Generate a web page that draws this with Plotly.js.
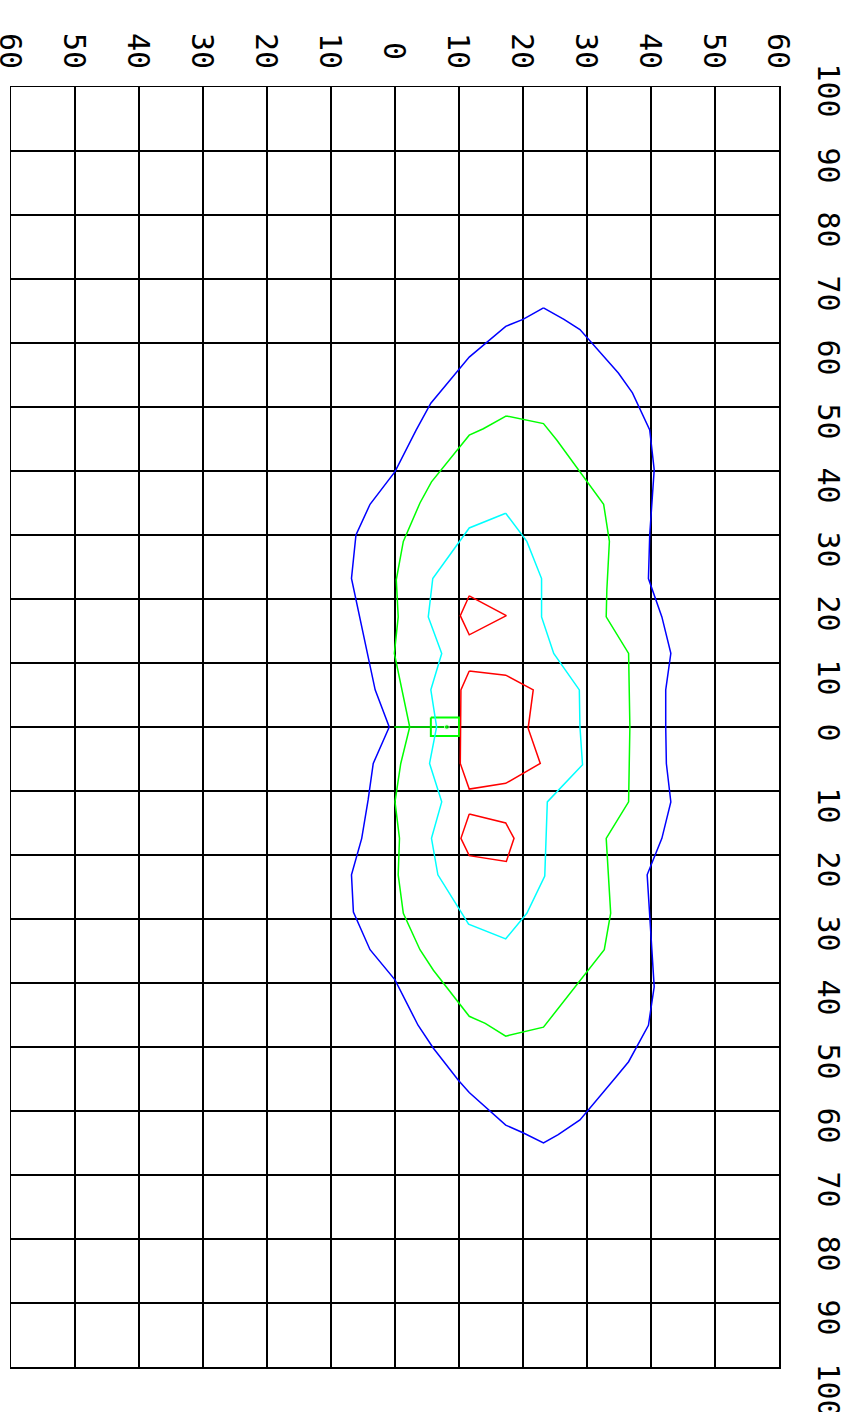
<!DOCTYPE html>
<html>
<head>
<meta charset="utf-8">
<script src="https://cdn.plot.ly/plotly-3.0.1.min.js"></script>
<style>
  html, body { margin: 0; padding: 0; background: #ffffff; }
  #chart { width: 865px; height: 1412px; }
</style>
</head>
<body>
<div id="chart"></div>
<script>
// ---- tick values / labels ----
const xTickVals = [-60, -50, -40, -30, -20, -10, 0, 10, 20, 30, 40, 50, 60];
const xTickText = ['60', '50', '40', '30', '20', '10', '0', '10', '20', '30', '40', '50', '60'];
const yTickVals = [100, 90, 80, 70, 60, 50, 40, 30, 20, 10, 0, -10, -20, -30, -40, -50, -60, -70, -80, -90, -100];
const yTickText = ['100', '90', '80', '70', '60', '50', '40', '30', '20', '10', '0', '10', '20', '30', '40', '50', '60', '70', '80', '90', '100'];

// ---- contour lines ----
const blueX = [23.2, 26.4, 28.9, 32.6, 34.9, 37.1, 39.8, 40.5, 39.8, 39.6, 41.7, 43.1, 42.3, 42.3, 42.4, 43.1, 41.7, 39.4, 40.5, 39.6, 36.5, 34.6, 32.6, 28.9, 25.5, 23.2, 20.0, 17.3, 11.6, 9.9, 6.0, 3.6, 0.0, -3.9, -6.5, -6.8, -5.2, -4.2, -3.4, -0.9, -3.1, -5.5, -6.8, -6.1, -3.9, 0.0, 3.3, 5.6, 11.6, 17.3, 20.0, 23.2];
const blueY = [65.5, 63.7, 62.1, 57.8, 55.3, 52.2, 46.4, 40.2, 30.0, 23.2, 17.2, 11.5, 5.8, 0.0, -5.7, -11.7, -17.4, -23.1, -40.6, -46.6, -52.3, -54.6, -57.0, -61.4, -63.7, -65.0, -63.4, -62.2, -57.1, -55.2, -50.2, -46.6, -39.5, -34.8, -28.9, -23.1, -17.4, -11.4, -5.7, 0.0, 5.8, 17.0, 23.2, 30.0, 34.8, 39.9, 46.4, 50.6, 57.8, 62.6, 63.7, 65.5];

const greenX = [17.4, 23.2, 25.3, 32.6, 33.5, 33.1, 33.0, 36.5, 36.7, 36.5, 33.0, 33.7, 32.7, 23.2, 17.3, 14.1, 11.6, 6.0, 3.9, 1.3, 0.5, 0.7, 0.0, 0.9, 2.3, -0.1, 0.5, 0.2, 1.3, 3.9, 5.7, 11.6, 13.8, 17.4];
const greenY = [48.6, 47.4, 44.8, 34.8, 29.0, 21.4, 17.2, 11.5, 0.0, -11.7, -17.4, -29.1, -34.8, -46.9, -48.3, -46.3, -45.2, -38.0, -34.8, -29.1, -23.1, -17.4, -11.7, -5.7, 0.0, 11.5, 17.2, 23.0, 29.0, 35.0, 38.3, 45.6, 46.6, 48.6];

// small green artefact near the origin (box + stub)
const greenBoxX = [5.6, 10.0, 10.0, 5.6, 5.6];
const greenBoxY = [1.5, 1.5, -1.4, -1.4, 1.5];
const greenStubX = [-0.1, 8.1];
const greenStubY = [0.0, 0.0];

const cyanX = [17.3, 20.6, 22.9, 22.9, 24.8, 28.8, 28.9, 29.3, 23.8, 23.4, 20.6, 17.3, 11.5, 6.7, 5.7, 7.3, 5.4, 6.5, 5.6, 7.3, 5.2, 5.9, 11.6, 17.3];
const cyanY = [33.4, 29.0, 23.2, 17.2, 11.5, 5.8, 0.0, -5.9, -11.7, -23.3, -29.1, -33.1, -30.8, -23.1, -17.4, -11.7, -5.7, 0.0, 5.8, 11.5, 17.2, 23.2, 31.1, 33.4];

const redX = [11.6, 17.4, 11.6, 10.2, 11.6, null,
              11.6, 17.3, 21.6, 20.8, 22.7, 17.3, 11.6, 10.2, 10.3, 11.6, null,
              11.6, 17.3, 18.6, 17.4, 11.6, 10.3, 11.6];
const redY = [20.5, 17.4, 14.4, 17.4, 20.5, null,
              8.75, 8.1, 5.8, -0.2, -5.7, -8.8, -9.7, -5.7, 5.8, 8.75, null,
              -13.6, -15.0, -17.4, -21.0, -20.1, -17.4, -13.6];

const FONT = 'DejaVu Sans Mono, Liberation Mono, monospace';
const LW = 1.5;

const traces = [
  {x: blueX, y: blueY, mode: 'lines', line: {color: '#0000ff', width: LW}, hoverinfo: 'skip'},
  {x: greenX, y: greenY, mode: 'lines', line: {color: '#00ff00', width: LW}, hoverinfo: 'skip'},
  {x: greenBoxX, y: greenBoxY, mode: 'lines', line: {color: '#00ff00', width: LW + 0.5}, hoverinfo: 'skip'},
  {x: greenStubX, y: greenStubY, mode: 'lines+markers', line: {color: '#00ff00', width: LW},
   marker: {color: '#00ff00', size: [0, 5]}, hoverinfo: 'skip'},
  {x: cyanX, y: cyanY, mode: 'lines', line: {color: '#00ffff', width: LW}, hoverinfo: 'skip'},
  {x: redX, y: redY, mode: 'lines', connectgaps: false, line: {color: '#ff0000', width: LW}, hoverinfo: 'skip'}
];

const annotations = [];
xTickVals.forEach((v, i) => {
  annotations.push({
    x: v, xref: 'x', y: 1, yref: 'paper',
    text: xTickText[i], textangle: 90, showarrow: false,
    xanchor: 'center', yanchor: 'middle', yshift: 36,
    font: {family: FONT, size: 30, color: '#000000'}
  });
});
yTickVals.forEach((v, i) => {
  const first = (i === 0);
  annotations.push({
    x: 1, xref: 'paper', y: v, yref: 'y',
    text: yTickText[i], textangle: 90, showarrow: false,
    xanchor: 'left', yanchor: first ? 'middle' : 'top', xshift: 30, yshift: first ? -3 : 6,
    font: {family: FONT, size: 30, color: '#000000'}
  });
});

const axisCommon = {
  showgrid: true, gridcolor: '#000000', gridwidth: 1.5,
  zeroline: false, showline: true, mirror: true, linecolor: '#000000', linewidth: 1.5,
  ticks: '', showticklabels: false, fixedrange: true
};

const layout = {
  width: 865, height: 1412,
  margin: {l: 11, r: 86, t: 87, b: 45, pad: 0},
  paper_bgcolor: '#ffffff', plot_bgcolor: '#ffffff',
  showlegend: false,
  xaxis: Object.assign({}, axisCommon, {range: [-60, 60], tickvals: xTickVals, side: 'top'}),
  yaxis: Object.assign({}, axisCommon, {range: [-100, 100], tickvals: yTickVals, side: 'right'}),
  annotations: annotations,
  font: {family: FONT, size: 30, color: '#000000'}
};

Plotly.newPlot('chart', traces, layout, {staticPlot: true, displayModeBar: false});
</script>
</body>
</html>
